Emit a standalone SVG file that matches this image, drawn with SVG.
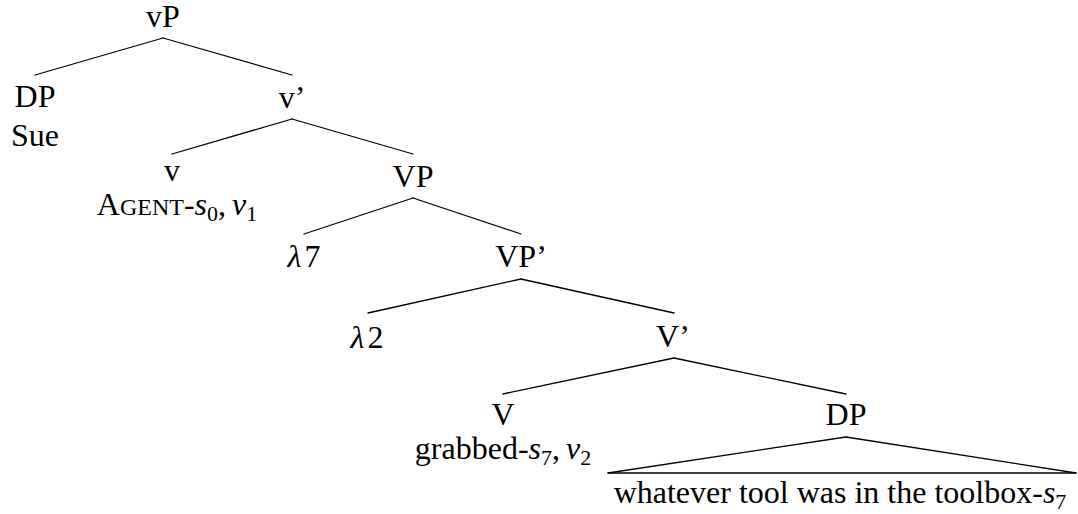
<svg xmlns="http://www.w3.org/2000/svg" width="1078" height="514" viewBox="0 0 1078 514">
<style>
text{font-family:"Liberation Serif","Times New Roman",serif;font-size:32px;fill:#000;text-anchor:middle}
.it{font-style:italic}
.sub{font-size:22px}
.sc{font-size:24px}
#edges line{stroke:#000;stroke-width:1.3;stroke-linecap:round}
</style>
<rect width="1078" height="514" fill="#fff"/>
<g id="edges">
<line x1="163" y1="38" x2="35" y2="75"/>
<line x1="163" y1="38" x2="292" y2="75"/>
<line x1="292" y1="119" x2="172" y2="154"/>
<line x1="292" y1="119" x2="413" y2="154"/>
<line x1="413" y1="198" x2="304" y2="234"/>
<line x1="413" y1="198" x2="521" y2="234"/>
<line x1="521" y1="279" x2="368" y2="313"/>
<line x1="521" y1="279" x2="674" y2="313"/>
<line x1="674" y1="358" x2="503" y2="394"/>
<line x1="674" y1="358" x2="846" y2="394"/>
<line x1="846" y1="437" x2="608" y2="473"/>
<line x1="846" y1="437" x2="1076" y2="473"/>
<line x1="608" y1="473" x2="1076" y2="473"/>
</g>
<g id="n-vP"><text x="163" y="27">vP</text></g>
<g id="n-DP1"><text x="35" y="107">DP</text><text x="35" y="146">Sue</text></g>
<g id="n-vbar"><text x="292" y="108">v’</text></g>
<g id="n-v"><text x="172" y="181">v</text><text x="177" y="215">A<tspan class="sc">GENT</tspan>-<tspan class="it">s</tspan><tspan class="sub" dy="6">0</tspan><tspan dy="-6">,</tspan><tspan class="it" dx="6">v</tspan><tspan class="sub" dy="6">1</tspan></text></g>
<g id="n-VP"><text x="413" y="187">VP</text></g>
<g id="n-l7"><text x="304" y="267"><tspan class="it">λ</tspan><tspan dx="3">7</tspan></text></g>
<g id="n-VPbar"><text x="521" y="267">VP’</text></g>
<g id="n-l2"><text x="367" y="348"><tspan class="it">λ</tspan><tspan dx="3">2</tspan></text></g>
<g id="n-Vbar"><text x="673" y="347">V’</text></g>
<g id="n-V"><text x="503" y="425">V</text><text x="503" y="459">grabbed-<tspan class="it">s</tspan><tspan class="sub" dy="6">7</tspan><tspan dy="-6">,</tspan><tspan class="it" dx="6">v</tspan><tspan class="sub" dy="6">2</tspan></text></g>
<g id="n-DP2"><text x="840" y="503">whatever tool was in the toolbox-<tspan class="it">s</tspan><tspan class="sub" dy="6">7</tspan></text><text x="846" y="425">DP</text></g>
</svg>
